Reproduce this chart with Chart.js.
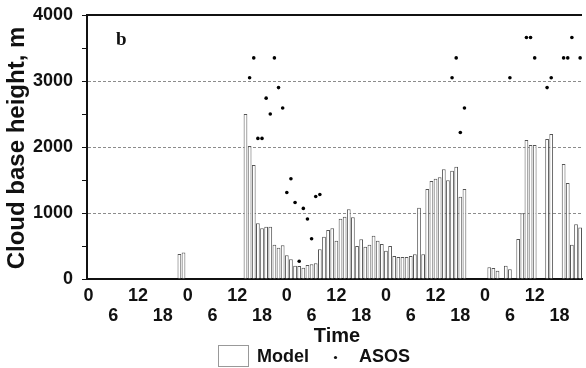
<!DOCTYPE html>
<html>
<head>
<meta charset="utf-8">
<script src="https://cdn.jsdelivr.net/npm/chart.js@4.4.0/dist/chart.umd.min.js"></script>
<style>
  html, body { margin: 0; padding: 0; background: #fff; }
  #wrap { width: 586px; height: 368px; }
</style>
</head>
<body>
<div id="wrap"><canvas id="cloudChart" width="586" height="368"></canvas></div>
<script>
// model cloud base height (m), one value per hour, 12 hours per row
const modelHeights = [
  0, 0, 0, 0, 0, 0, 0, 0, 0, 0, 0, 0,
  0, 0, 0, 0, 0, 0, 0, 0, 0, 0, 380, 400,
  0, 0, 0, 0, 0, 0, 0, 0, 0, 0, 0, 0,
  0, 0, 2500, 2015, 1727, 843, 768, 793, 793, 520, 475, 510,
  359, 298, 202, 197, 172, 212, 222, 237, 449, 640, 742, 768,
  581, 914, 944, 1056, 934, 500, 601, 490, 520, 657, 581, 530,
  429, 500, 348, 333, 333, 333, 348, 374, 1081, 374, 1364, 1485,
  1520, 1540, 1662, 1495, 1641, 1702, 1247, 1364, 0, 0, 0, 0,
  0, 177, 167, 126, 0, 202, 146, 0, 606, 995, 2106, 2030,
  2030, 0, 0, 2121, 2197, 0, 0, 1742, 1454, 520, 828, 780,
];

// ASOS observations
const asosHours = [39, 40, 41, 42, 43, 44, 45, 46, 47, 48, 49, 50, 51, 52, 53, 54, 55, 56,
  88, 89, 90, 91, 102, 106, 107, 108, 111, 112, 115, 116, 117, 119];
const asosHeights = [3050, 3350, 2130, 2130, 2740, 2500, 3350, 2900, 2590, 1310, 1520, 1160, 270, 1070, 910, 610, 1250, 1280,
  3050, 3350, 2220, 2590, 3050, 3660, 3660, 3350, 2900, 3050, 3350, 3350, 3660, 3350];

const timeTicks = [0, 6, 12, 18, 24, 30, 36, 42, 48, 54, 60, 66, 72, 78, 84, 90, 96, 102, 108, 114];
const heightTicks = [0, 500, 1000, 1500, 2000, 2500, 3000, 3500, 4000];

const sansFont = "'Liberation Sans', Arial, sans-serif";

const frameDecor = {
  id: "frameDecor",
  afterDraw(chart) {
    const { ctx, chartArea } = chart;
    ctx.save();

    // top of the frame
    ctx.strokeStyle = "#111";
    ctx.lineWidth = 2;
    ctx.beginPath();
    ctx.moveTo(chartArea.left - 1, chartArea.top);
    ctx.lineTo(chartArea.right, chartArea.top);
    ctx.stroke();

    ctx.fillStyle = "#111";
    ctx.font = "bold 19px 'Liberation Serif', 'Times New Roman', serif";
    ctx.textAlign = "left";
    ctx.textBaseline = "alphabetic";
    ctx.fillText("b", 116, 45);

    // axis titles
    ctx.font = `bold 20px ${sansFont}`;
    ctx.textAlign = "center";
    ctx.textBaseline = "middle";
    ctx.fillText("Time", 337, 336);

    ctx.save();
    ctx.translate(17, 148);
    ctx.rotate(-Math.PI / 2);
    ctx.font = `bold 24px ${sansFont}`;
    ctx.fillText("Cloud base height, m", 0, 0);
    ctx.restore();

    // legend
    ctx.strokeStyle = "#999";
    ctx.lineWidth = 1;
    ctx.strokeRect(218.5, 345.5, 30, 21);
    ctx.font = `bold 18px ${sansFont}`;
    ctx.textAlign = "left";
    ctx.fillText("Model", 257, 357);
    ctx.fillText("ASOS", 359, 357);
    ctx.beginPath();
    ctx.arc(335.5, 357.5, 1.6, 0, Math.PI * 2);
    ctx.fill();

    ctx.restore();
  },
};

new Chart(document.getElementById("cloudChart"), {
  type: "bar",
  data: {
    datasets: [
      {
        type: "scatter",
        label: "ASOS",
        data: asosHours.map((h, i) => ({ x: h, y: asosHeights[i] })),
        pointRadius: 1.8,
        pointBackgroundColor: "#000",
        pointBorderWidth: 0,
        order: 0,
      },
      {
        label: "Model",
        data: modelHeights.map((v, h) => ({ x: h, y: v })),
        backgroundColor: "#fff",
        borderColor: "#555",
        borderWidth: 1,
        barPercentage: 0.95,
        categoryPercentage: 0.95,
        order: 1,
      },
    ],
  },
  options: {
    responsive: false,
    animation: false,
    layout: { padding: { top: 15, right: 0, bottom: 0, left: 0 } },
    plugins: {
      legend: { display: false },
      tooltip: { enabled: false },
    },
    scales: {
      x: {
        type: "linear",
        offset: false,
        min: -0.36,
        max: 119.45,
        afterBuildTicks: (scale) => {
          scale.ticks = timeTicks.map((v) => ({ value: v }));
        },
        afterFit: (scale) => {
          scale.height = 89;
        },
        grid: { display: false, offset: false, drawTicks: false },
        border: { color: "#111", width: 2 },
        ticks: {
          autoSkip: false,
          maxRotation: 0,
          padding: 7,
          color: "#111",
          font: { family: sansFont, size: 18, weight: "bold", lineHeight: 1.11 },
          callback: (value) => (value % 12 === 0 ? [String(value % 24), ""] : ["", String(value % 24)]),
        },
      },
      y: {
        min: 0,
        max: 4000,
        afterBuildTicks: (scale) => {
          scale.ticks = heightTicks.map((v) => ({ value: v }));
        },
        afterFit: (scale) => {
          scale.width = 87;
          scale.paddingTop = 0;
          scale.paddingBottom = 0;
        },
        grid: {
          color: (ctx) => {
            const v = ctx.tick ? ctx.tick.value : 0;
            return v % 1000 === 0 && v > 0 && v < 4000 ? "#8c8c8c" : "rgba(0,0,0,0)";
          },
          lineWidth: 1,
          tickColor: "#111",
          tickLength: 5,
          tickWidth: 1,
          tickBorderDash: [],
        },
        border: { color: "#111", width: 2, dash: [3, 2] },
        ticks: {
          autoSkip: false,
          padding: 9,
          color: "#111",
          font: { family: sansFont, size: 18, weight: "bold", lineHeight: 0.6 },
          callback: (value) => (value % 1000 === 0 ? String(value) : ""),
        },
      },
    },
  },
  plugins: [frameDecor],
});
</script>
</body>
</html>
